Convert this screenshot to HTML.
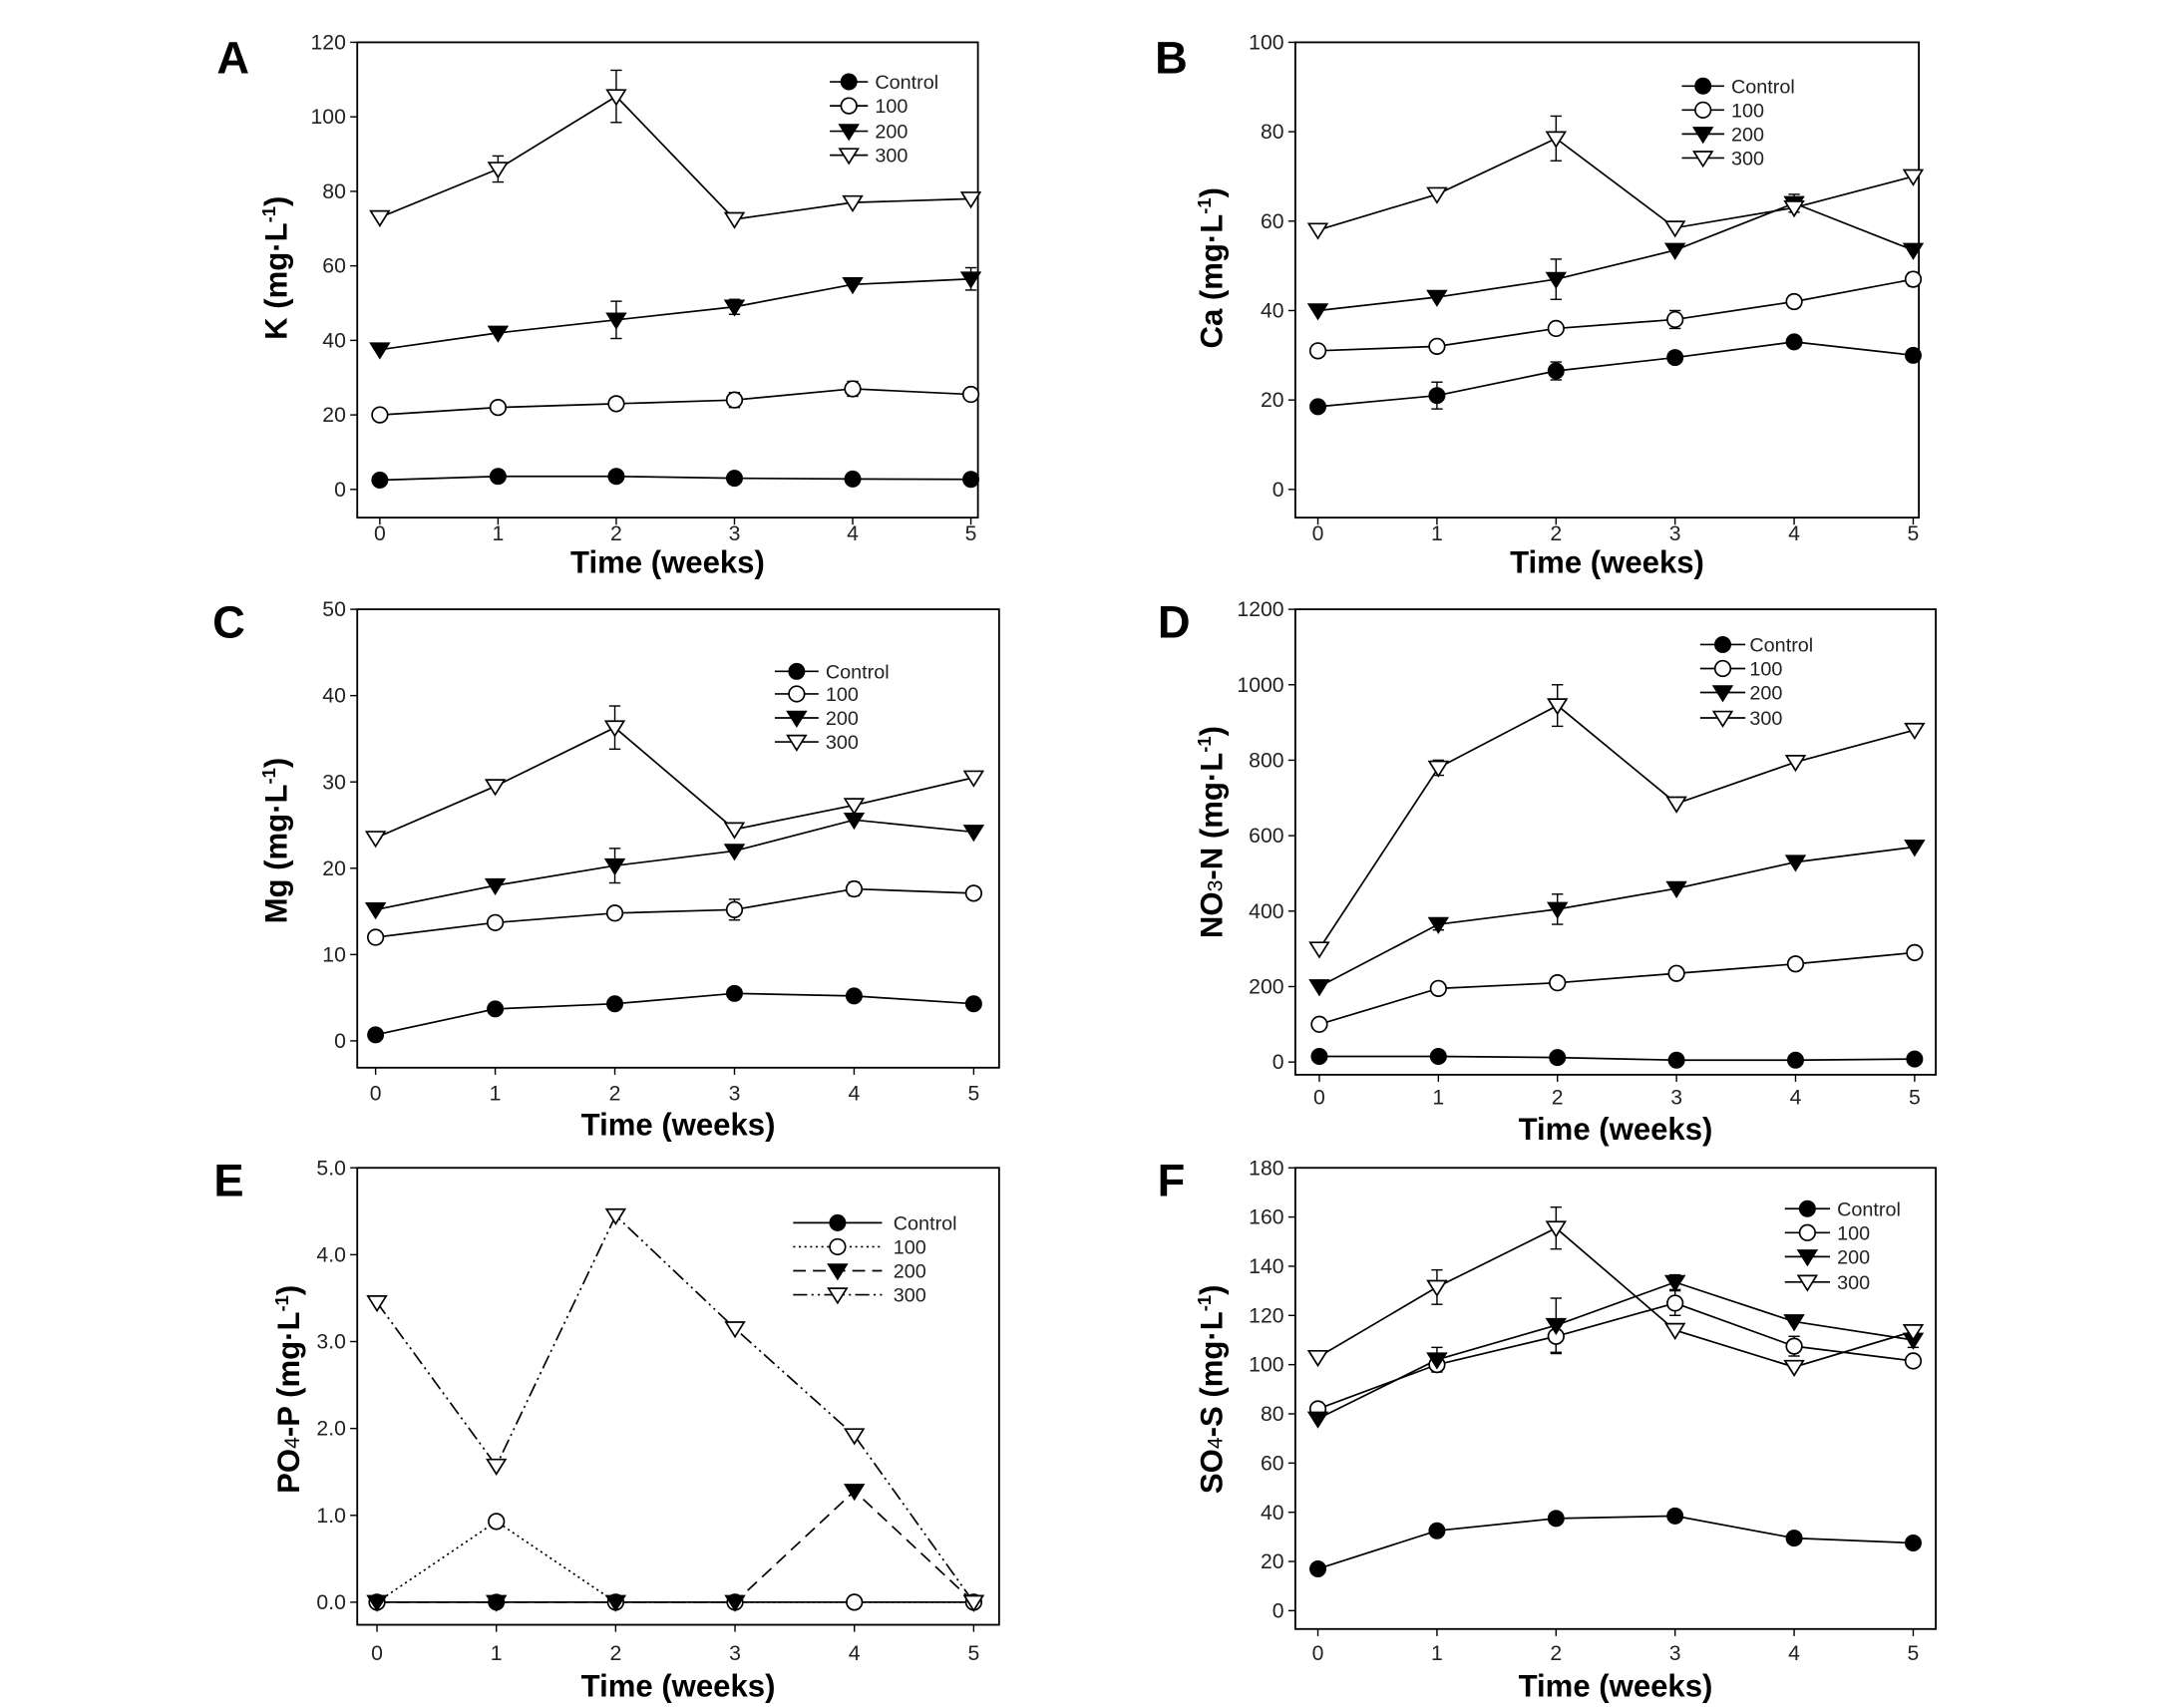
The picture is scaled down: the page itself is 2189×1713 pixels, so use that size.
<!DOCTYPE html>
<html><head><meta charset="utf-8"><style>
html,body{margin:0;padding:0;background:#fff;}
svg{display:block;}
text{font-family:"Liberation Sans Narrow","Liberation Sans",sans-serif;}
</style></head><body>
<svg id="s" xmlns="http://www.w3.org/2000/svg" width="2189" height="1713" viewBox="0 0 1547 1211"></svg>
<script>
const NS="http://www.w3.org/2000/svg";const s=document.getElementById('s');
function el(t,a,txt){const e=document.createElementNS(NS,t);for(const k in a)e.setAttribute(k,a[k]);if(txt!==undefined)e.textContent=txt;s.appendChild(e);return e;}
function marker(k,x,y){
 if(k==0)el('circle',{cx:x,cy:y,r:5.5,fill:'#000',stroke:'#000'});
 else if(k==1)el('circle',{cx:x,cy:y,r:5.5,fill:'#fff',stroke:'#000','stroke-width':1.2});
 else{const r=6.5;el('polygon',{points:`${x-r},${y-r*0.7} ${x+r},${y-r*0.7} ${x},${y+r*0.9}`,fill:k==2?'#000':'#fff',stroke:'#000','stroke-width':1.2});}
}
const P=[
{L:'A',lx:165,ly:52,f:[253,30,693,367],y0:347,y1:30,ymax:120,yt:[0,20,40,60,80,100,120],x0:269,x5:688,ylab:'K',yl:[203,190],tx:378,xl:398,
 d:[[2.5,3.5,3.5,3,2.8,2.7],[20,22,23,24,27,25.5],[37.5,42,45.5,49,55,56.5],[73,86,105.5,72.5,77,78]],
 e:[[3,1,3.5],[3,2,7],[2,2,5],[2,5,3],[2,3,2],[1,3,2],[1,4,2]],lg:[588,615,620,[58,75,93,110]]},
{L:'B',lx:830,ly:52,f:[918,30,1360,367],y0:347,y1:30,ymax:100,yt:[0,20,40,60,80,100],x0:934,x5:1356,ylab:'Ca',yl:[866,190],tx:378,xl:398,
 d:[[18.5,21,26.5,29.5,33,30],[31,32,36,38,42,47],[40,43,47,53.5,64,53.5],[58,66,78.5,58.5,63,70]],
 e:[[3,2,5],[2,2,4.5],[0,1,3],[0,2,2],[1,3,2],[2,4,2],[1,5,1.5]],lg:[1192,1222,1227,[61,78,95,112]]},
{L:'C',lx:162,ly:452,f:[253,432,708,757],y0:738,y1:432,ymax:50,yt:[0,10,20,30,40,50],x0:266,x5:690,ylab:'Mg',yl:[203,596],tx:775,xl:797,
 d:[[0.7,3.7,4.3,5.5,5.2,4.3],[12,13.7,14.8,15.2,17.6,17.1],[15.2,18,20.3,22,25.6,24.2],[23.5,29.5,36.3,24.5,27.3,30.5]],
 e:[[3,2,2.5],[2,2,2],[1,3,1.2],[1,4,0.8]],lg:[549,580,585,[476,492,509,526]]},
{L:'D',lx:832,ly:452,f:[918,432,1372,762],y0:753,y1:432,ymax:1200,yt:[0,200,400,600,800,1000,1200],x0:935,x5:1357,ylab:'NO3-N',yl:[866,590],tx:778,xl:800,
 d:[[15,15,12,5,5,8],[100,195,210,235,260,290],[200,365,405,460,530,570],[300,780,945,685,795,880]],
 e:[[3,2,55],[2,2,40],[3,1,20],[2,1,15]],lg:[1205,1237,1240,[457,474,491,509]]},
{L:'E',lx:162,ly:848,f:[253,828,708,1152],y0:1136,y1:828,ymax:5,yt:[0,1,2,3,4,5],dec:1,x0:267,x5:690,ylab:'PO4-P',yl:[212,985],tx:1172,xl:1195,
 d:[[0,0,0,0,0,0],[0,0.93,0,0,0,0],[0,0,0,0,1.28,0],[3.45,1.57,4.45,3.15,1.92,0]],e:[],lg:[562,625,633,[867,884,901,918]],long:1},
{L:'F',lx:830,ly:848,f:[918,828,1372,1155],y0:1142,y1:828,ymax:180,yt:[0,20,40,60,80,100,120,140,160,180],x0:934,x5:1356,ylab:'SO4-S',yl:[866,985],tx:1172,xl:1195,
 d:[[17,32.5,37.5,38.5,29.5,27.5],[82,100,111.5,125,107.5,101.5],[78,102,116,133.5,117.5,110],[103,131.5,155.5,114,99,113.5]],
 e:[[3,1,7],[3,2,8.5],[2,2,11],[1,2,7],[2,1,5],[1,3,5],[2,3,3],[1,4,4],[2,5,3]],lg:[1265,1297,1302,[857,874,891,909]]}
];
const dash=['','1.5,2.5','9,5','10,3,1.5,3,1.5,3'];
for(const p of P){
 const [L,T,R,B]=p.f;
 el('rect',{x:L,y:T,width:R-L,height:B-T,fill:'none',stroke:'#000','stroke-width':1.3});
 const Y=v=>p.y0+(p.y1-p.y0)*v/p.ymax, X=i=>p.x0+(p.x5-p.x0)*i/5;
 for(const t of p.yt){const y=Y(t);el('line',{x1:L-5,y1:y,x2:L,y2:y,stroke:'#000'});
  el('text',{x:L-8,y:y+5,'text-anchor':'end','font-size':15,fill:'#222'},p.dec?t.toFixed(1):t);}
 for(let i=0;i<6;i++){const x=X(i);el('line',{x1:x,y1:B,x2:x,y2:B+5,stroke:'#000'});
  el('text',{x:x,y:p.tx+5,'text-anchor':'middle','font-size':15,fill:'#222'},i);}
 el('text',{x:(L+R)/2,y:p.xl+8,'text-anchor':'middle','font-size':22,'font-weight':'bold'},'Time (weeks)');
 el('text',{x:p.lx,y:p.ly,'text-anchor':'middle','font-size':32,'font-weight':'bold','font-family':'Liberation Sans'},p.L);
 const yl=el('text',{x:p.yl[0],y:p.yl[1],'text-anchor':'middle','font-size':22,'font-weight':'bold','font-family':'Liberation Sans',transform:`rotate(-90 ${p.yl[0]} ${p.yl[1]})`});
 const m=p.ylab.match(/^(\D+)(\d?)(.*)$/);
 yl.appendChild(document.createTextNode(m[1]));
 if(m[2]){const t=document.createElementNS(NS,'tspan');t.setAttribute('font-size',15);t.setAttribute('font-weight','normal');t.textContent=m[2];yl.appendChild(t);}
 yl.appendChild(document.createTextNode(m[3]+' (mg\u00B7L'));
 const sp=document.createElementNS(NS,'tspan');sp.setAttribute('font-size',13);sp.setAttribute('dy',-8);sp.textContent='-1';yl.appendChild(sp);
 const sp2=document.createElementNS(NS,'tspan');sp2.setAttribute('dy',8);sp2.textContent=')';yl.appendChild(sp2);
 for(const [k,i,e] of p.e){const x=X(i),v=p.d[k][i];const a=Y(v+e),b=Y(v-e);
  el('line',{x1:x,y1:a,x2:x,y2:b,stroke:'#000'});el('line',{x1:x-4,y1:a,x2:x+4,y2:a,stroke:'#000'});el('line',{x1:x-4,y1:b,x2:x+4,y2:b,stroke:'#000'});}
 for(let k=0;k<4;k++){
  el('polyline',{points:p.d[k].map((v,i)=>X(i)+','+Y(v)).join(' '),fill:'none',stroke:'#000','stroke-width':1.2,'stroke-dasharray':p.long?dash[k]:''});
 }
 for(let k=0;k<4;k++)p.d[k].forEach((v,i)=>marker(k,X(i),Y(v)));
 const names=['Control','100','200','300'];
 for(let k=0;k<4;k++){const y=p.lg[3][k];const a=p.lg[0],b=p.lg[1];
  el('line',{x1:a,y1:y,x2:b,y2:y,stroke:'#000','stroke-width':1.2,'stroke-dasharray':p.long?dash[k]:''});
  marker(k,(a+b)/2,y);
  el('text',{x:p.lg[2],y:y+5,'font-size':14,fill:'#222'},names[k]);}
}
</script>
</body></html>
